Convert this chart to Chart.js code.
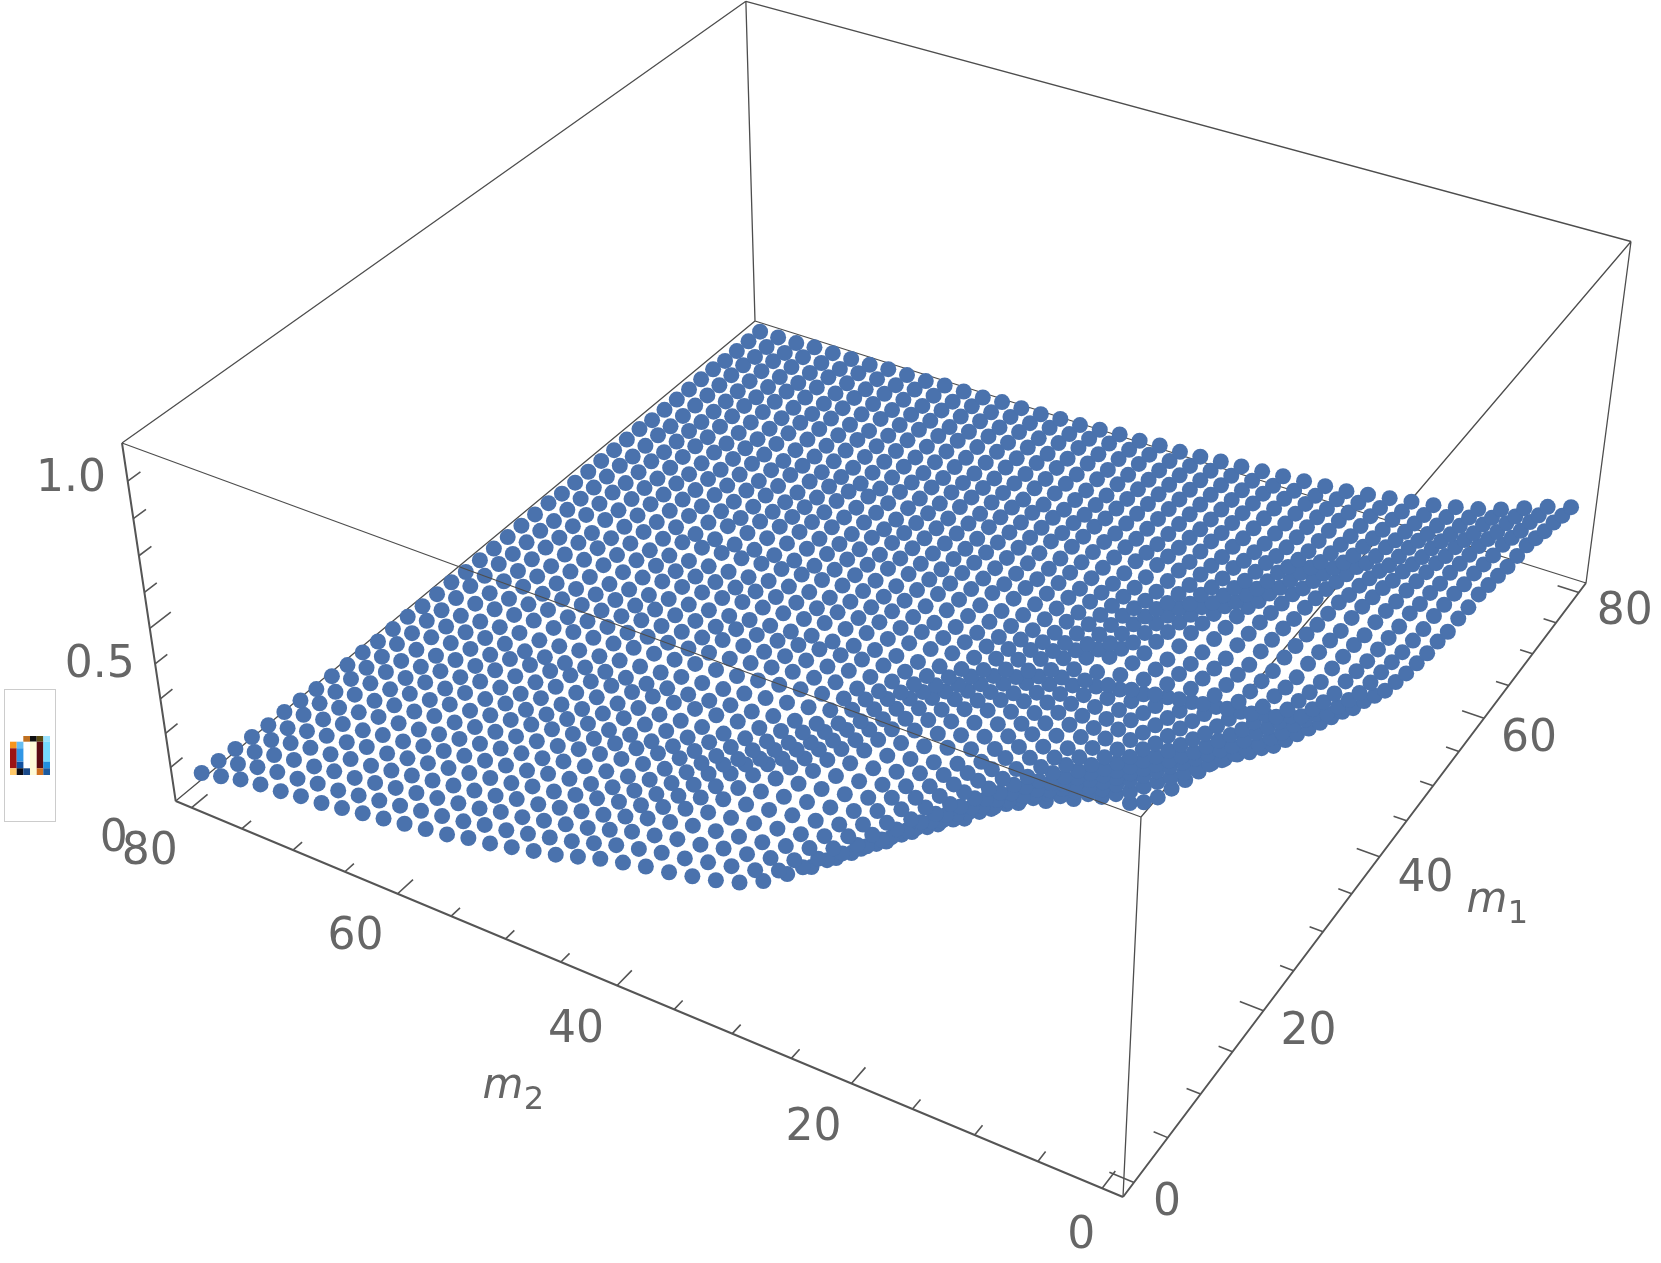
<!DOCTYPE html>
<html><head><meta charset="utf-8"><title>Surface points</title>
<style>html,body{margin:0;padding:0;background:#fff}canvas{display:block}</style>
<script src="https://cdn.jsdelivr.net/npm/chart.js@4"></script></head>
<body><canvas id="c" width="1661" height="1263"></canvas>
<script>
const m1Values=[0,2,4,6,8,10,12,14,16,18,20,22,24,26,28,30,32,34,36,38,40,42,44,46,48,50,52,54,56,58,60,62,64,66,68,70,72,74,76,78,80];
const m2Values=[0,2,4,6,8,10,12,14,16,18,20,22,24,26,28,30,32,34,36,38,40,42,44,46,48,50,52,54,56,58,60,62,64,66,68,70,72,74,76,78,80];
// surface height x100, one row per m1 value, one column per m2 value
const zRows=[
[98,97,94,91,88,84,79,75,70.5,65.5,61,56,51,46.5,42,39,37,35.5,34,33,31.5,30,28,26,24.5,23,21.5,20.5,19,18,17,16,15,14,13,12.5,11.5,11,10,8.5,7],
[94,93.5,91,88,85,81,76.5,72,67.5,63,58,53,48.5,44,40.5,38,36.5,35,33.5,32.5,31,29.5,27.5,25.5,24,22.5,21,20,18.5,17.5,16.5,15.5,14.5,13.5,12.5,12,11,10.5,9.5,8,6.5],
[91,90,88,85,82,78,73.5,69.5,65,60.5,55.5,50.5,46,42,39,37,35.5,34.5,33,32,30.5,29,27,25,23.5,22,20.5,19.5,18,17,16,15,14,13,12,11.5,10.5,10,9,7.5,6],
[89,87,85,82,79,75,71,67,62.5,58,53,48,44,40.5,38,36,34.5,33.5,32.5,31.5,30,28.5,26.5,24.5,23,21.5,20,19,17.5,16.5,15.5,14.5,13.5,12.5,11.5,11,10,9.5,8.5,7,5.5],
[87,84,82,79,76,72,68,64.5,60,55.5,51,46.5,42.5,39.5,37,35,34,33,32,31,29.5,27.5,25.5,24,22.5,21,19.5,18.5,17,16,15,14,13,12,11,10.5,9.5,9,8,6.5,5],
[85,81,79,76,73,69.5,65.5,62,58,53.5,49,45,41.5,38.5,36,34.5,33.5,32.5,31.5,30.5,28.5,26.5,24.5,23,21.5,20,19,18,16.5,15.5,14.5,13.5,12.5,11.5,10.5,10,9,8.5,7.5,6.5,5],
[83,78,76,73,70,67,63,59.5,55.5,51.5,47.5,44,41,38,35.5,34,33,32,31,29.5,27.5,25.5,23.5,22,20.5,19.5,18.5,17.5,16,15,14,13,12,11,10,9.5,9,8,7,6,4.5],
[80,75,73,70,67,64,60.5,57,53.5,50,46.5,43,40,37.5,35,33.5,32.5,31.5,30.5,29,27,24.5,22.5,21,20,19,18,17,15.5,14.5,13.5,12.5,11.5,10.5,10,9,8.5,7.5,7,5.5,4],
[77,72,70,67,64,61,58,55,51.5,48.5,45.5,42,39,36.5,34.5,33,32,31,29.5,28,25.5,23,21,20,19,18,17,16,15,14,13,12,11,10,9.5,8.5,8,7,6.5,5.5,4],
[73.5,69,67,64,61.5,58.5,55.5,53,50,47,44.5,41,38,36,34,32.5,31.5,30,28,25.5,23,20.5,19,18,17,16,15.5,14.5,14,13,12,11,10.5,9.5,9,8,7.5,6.5,6,5,3.5],
[70.5,66.5,64,61,58.5,56,53.5,51,48.5,46,43.5,40,37,35,33.5,32,31,29,26.5,24,21.5,19,17.5,16.5,15.5,15,14.5,14,13,12,11,10.5,9.5,9,8.5,7.5,7,6,5.5,4.5,3.5],
[67,63.5,61,58,56,54,51.5,49.5,47,45,42.5,39.5,37,35,33,31.5,30,27.5,25,22,19.5,17.5,16,15,14.5,14,13.5,13,12,11.5,10.5,10,9,8.5,8,7,6.5,5.5,5,4.5,3],
[64.5,61,58,55.5,53.5,51.5,50,48,46,44,42,39,36.5,34.5,32.5,31,29,26.5,24,21,18.5,16.5,15,14.5,14,13.5,13,12.5,11.5,11,10,9.5,8.5,8,7.5,6.5,6,5.5,5,4,3],
[62,58.5,55.5,53,51,49.5,48,46.5,44.5,43,41,38.5,36,34,32,30,28,25.5,22.5,19.5,17,15.5,14.5,13.5,13,12,11.5,11,10,9.5,9,8,7,6.5,6,6,5.5,5,4.5,4,3],
[59.5,56,53.5,50.5,48.5,47.5,46,45,43,41.5,40,37.5,35.5,33.5,31.5,29,27,24.5,22,19.5,17,15.5,14.5,13.5,12.5,11.5,11,10.5,9.5,9,8.5,7.5,7,6,5.5,5.5,5,4.5,4,3.5,2.5],
[57,54,51,48,46.5,45.5,44,43,41.5,40,38.5,36.5,34.5,32.5,30,28,26,23.5,21,18.5,16.5,15.5,14.5,13.5,12.5,11.5,11,10.5,9.5,9,8.5,7.5,7,6.5,5.5,5.5,5,4.5,4,3.5,2.5],
[54.5,51.5,48.5,46,44.5,43.5,42,41,40,38.5,37,35,33,30.5,28.5,26.5,24,21.5,19,17,15.5,15,14,13.5,12.5,11.5,10.5,10,9,8.5,8,7,6.5,6,5,5,4.5,4,3.5,3.5,2.5],
[52,49,46,44,42.5,41.5,40.5,39.5,38,37,35.5,33.5,31.5,29.5,27,24.5,22,19.5,17.5,16,15,14.5,13.5,13,12,11,10.5,10,8.5,8,7.5,7,6,5.5,5,4.5,4,4,3.5,3,2],
[49,45,42,39.5,38,37,36,35,34,33,32,31,29.5,27.5,25,23,20.5,18,16,15,14.5,14,13,12.5,11.5,10.5,10,9.5,8,7.5,7,6.5,5.5,5,4.5,4,3.5,3.5,3,3,2],
[47,43,40,37.5,36,35,34.5,34,33,32,31,29.5,28,25.5,23,21,18.5,16.5,15,14,13.5,13,12,11,10.5,9.5,9,8.5,7.5,7,6.5,6,5,4.5,4,4,3.5,3,3,2.5,2],
[44.5,41,38,36,35,34,33.5,33,32,31,30.5,30,27.5,25,22.5,20,18,16,15,14,13.5,12.5,12,11,10.5,9.5,9,8.5,8,7,6.5,6,5.5,4.5,4,4,3.5,3,3,2.5,2],
[42,39,36.5,34.5,33.5,33,32.5,32,31,30,29.5,28.5,26,23.5,21,19,17,15.5,14.5,13.5,13,12,11.5,10.5,10,9,8.5,8,7.5,6.5,6,5.5,5,4.5,4,3.5,3.5,3,2.5,2.5,2],
[40.5,38,36,33.5,32.5,32,31.5,31,30.5,30,29,26.5,24,21.5,19.5,17.5,16,14.5,13.5,13,12,11.5,11,10,9.5,8.5,8,7.5,7,6,5.5,5,4.5,4,3.5,3.5,3,2.5,2.5,2,2],
[39,37,35,33.5,32.5,32,31.5,31,30.5,30,28,25.5,23,20.5,18.5,16.5,15,14,13,12.5,12,11,10.5,9.5,9,8.5,8,7.5,7,6.5,6,5.5,5,4.5,3.5,3.5,3,3,2.5,2,2],
[38,36,34,33,32,31.5,31,30.5,30,29,27,24.5,22,19.5,17.5,16,14.5,13.5,12.5,12,11.5,11,10,9,8.5,8,7.5,6.5,6,5.5,5,4.5,4,3.5,3.5,3,3,2.5,2.5,2,1.5],
[37,35,33.5,32.5,31.5,31,30.5,30,29.5,28,25.5,23,20.5,18.5,16.5,15,14,13,12.5,12,11,10.5,9.5,9,8.5,7.5,7,6.5,6,5.5,5,4.5,4.5,3.5,3.5,3,3,2.5,2.5,2,1.5],
[36.5,34.5,33,31.5,30.5,30,29.5,29,28.5,26.5,24,21.5,19,17,15.5,14.5,13.5,12.5,12,11,10.5,10,9,8.5,8,7,6.5,6,5.5,5.5,5,4.5,3.5,3.5,3,3,2.5,2.5,2,2,1.5],
[35.5,34,32.5,31.5,30.5,29.5,29,28,26.5,24,21.5,19,17,15.5,14.5,13.5,12.5,12,11,10.5,10,9.5,8.5,8,7.5,7,6.5,5.5,5.5,5,4.5,4,3.5,3,3,2.5,2.5,2,2,2,1.5],
[35.5,34,32.5,31,30,29,28,27,25,22.5,20,18,16,14.5,13.5,12.5,12,11.5,10.5,10,9.5,9,8,7.5,7,6.5,5.5,5.5,5,4.5,4,3.5,3.5,3,2.5,2.5,2,2,2,1.5,1.5],
[35,33.5,31.5,30,29,27.5,27,25,23,20.5,18.5,16.5,15,14,13,12,11.5,11,10,9.5,9,8.5,7.5,7,6.5,6,5,5,4.5,4.5,3.5,3,3,2.5,2.5,2,2,2,1.5,1.5,1.5],
[35,33,31,29.5,28,26.5,25.5,23.5,21.5,19,17,15.5,14.5,13.5,13,12,11,10.5,10,9.5,8.5,8,7.5,6.5,6,5.5,5,4.5,4.5,4,3.5,3,3,2.5,2.5,2,2,2,1.5,1.5,1.5],
[34,32,30,28.5,26.5,25,24,22,20,18,16,15,13.5,12.5,12,11,10.5,10,9.5,8.5,8,7.5,7,6,6,5,4.5,4.5,3.5,3,3,2.5,2.5,2,2,2,1.5,1.5,1.5,1,1],
[33,31.5,29.5,27.5,25.5,23.5,22.5,20,18,16,15,13.5,12.5,12,11,10,9.5,9,9,8,7.5,7,6.5,6,5.5,5,4.5,4,3.5,3,2.5,2.5,2,2,2,1.5,1.5,1.5,1,1,1],
[32,30.5,28.5,26.5,24,21.5,20,18,16,14.5,13.5,12.5,12,11.5,10.5,9.5,9,8.5,8,7,6.5,6,5.5,5.5,5,4.5,4,3.5,3.5,3,2.5,2.5,2,2,2,1.5,1.5,1.5,1,1,1],
[31.5,29.5,27.5,25,22.5,20.5,18.5,16.5,15,13.5,12.5,11.5,11,10.5,9.5,9,8.5,8,7.5,6.5,6,6,5.5,5,4.5,4,4,3.5,3,3,2.5,2.5,2,2,2,1.5,1.5,1.5,1,1,1],
[31,29,26.5,24,21.5,19.5,17.5,15.5,14,13,12,11,10.5,10,9,8.5,8,7.5,7,6,5.5,5.5,5,4.5,4.5,4,3.5,3.5,3,3,2.5,2,2,2,1.5,1.5,1.5,1,1,1,1],
[29.5,27.5,25,22.5,20,18,16,14.5,13,12.5,11.5,10.5,10,9.5,8.5,8,7.5,7,6.5,6,5.5,5,5,4.5,4,4,3.5,3.5,3,3,2.5,2.5,2,2,1.5,1.5,1.5,1,1,1,1],
[28,26,23.5,21,18.5,16.5,15,13.5,12.5,12,11,10,9.5,9,8,7.5,7,6.5,6,5.5,5,5,4.5,4,4,3.5,3.5,3,2.5,2.5,2.5,2,2,2,1.5,1.5,1,1,1,1,0.5],
[27,25,22.5,20,17.5,15.5,14,13,12,11,10,9.5,9,8.5,7.5,7,6.5,6,5.5,5.5,5,4.5,4.5,4,3.5,3.5,3,3,2.5,2.5,2,2,2,1.5,1.5,1.5,1,1,1,0.5,0.5],
[25.5,23.5,21,18.5,16.5,14.5,13,12,11,10.5,9.5,8.5,8,7.5,7,6.5,6,5.5,5,5,4.5,4.5,4,3.5,3.5,3,3,2.5,2.5,2,2,2,1.5,1.5,1.5,1,1,1,0.5,0.5,0.5],
[24.5,22.5,20,17.5,15.5,14,12.5,11.5,10.5,9.5,8.5,8,7.5,7,6.5,6,5.5,5,4.5,4.5,4,4,3.5,3,3,2.5,2.5,2.5,2,2,2,1.5,1.5,1.5,1,1,1,1,0.5,0.5,0.5]
];
const m2Ticks=[0,5,10,15,20,25,30,35,40,45,50,55,60,65,70,75,80];
const m1Ticks=[0,5,10,15,20,25,30,35,40,45,50,55,60,65,70,75,80];
const zTicks=[0,0.1,0.2,0.3,0.4,0.5,0.6,0.7,0.8,0.9,1];
const m2Labels=["0","20","40","60","80"];
const m1Labels=["0","20","40","60","80"];
const zLabels=["0","0.5","1.0"];

const M_MIN=-1.6, M_MAX=81.6;
const frameCal=[[0,0,0,1123,1197],[1,0,0,175.7,801],[0,1,0,1586,583],[1,1,0,755,321],
 [0,0,1,1141,817],[1,0,1,122,443],[0,1,1,1631,241.5]];
function solveCamera(){
 const A=[],B=[];
 frameCal.forEach(([a,b,c,x,y])=>{
  const X=x/1000,Y=y/1000;
  A.push([a,b,c,1,0,0,0,0,-X*a,-X*b,-X*c]);B.push(X);
  A.push([0,0,0,0,a,b,c,1,-Y*a,-Y*b,-Y*c]);B.push(Y);
 });
 const n=11,N=[];
 for(let i=0;i<n;i++){N.push(new Array(n+1).fill(0));
  for(let j=0;j<n;j++)for(let k=0;k<A.length;k++)N[i][j]+=A[k][i]*A[k][j];
  for(let k=0;k<A.length;k++)N[i][n]+=A[k][i]*B[k];}
 for(let i=0;i<n;i++){let p=i;for(let r=i+1;r<n;r++)if(Math.abs(N[r][i])>Math.abs(N[p][i]))p=r;
  [N[i],N[p]]=[N[p],N[i]];
  for(let r=0;r<n;r++)if(r!==i){const f=N[r][i]/N[i][i];for(let c=i;c<=n;c++)N[r][c]-=f*N[i][c];}}
 return N.map((row,i)=>row[n]/row[i]);
}
const P=solveCamera();
function raw(a,b,c){
 const w=P[8]*a+P[9]*b+P[10]*c+1;
 return [1000*(P[0]*a+P[1]*b+P[2]*c+P[3])/w,1000*(P[4]*a+P[5]*b+P[6]*c+P[7])/w];
}
const residuals=frameCal.map(([a,b,c,x,y])=>{const r=raw(a,b,c);return [a,b,c,x-r[0],y-r[1]];});
function proj(m1,m2,z){
 const a=(m2-M_MIN)/(M_MAX-M_MIN),b=(m1-M_MIN)/(M_MAX-M_MIN),c=z;
 const r=raw(a,b,c);let dx=0,dy=0;
 residuals.forEach(([ca,cb,cc,ex,ey])=>{const w=(ca?a:1-a)*(cb?b:1-b)*(cc?c:1-c);dx+=w*ex;dy+=w*ey;});
 return {x:r[0]+dx,y:r[1]+dy};
}
const gap={x:NaN,y:NaN};
const surface=[];
m1Values.forEach((m1,i)=>m2Values.forEach((m2,j)=>surface.push(proj(m1,m2,zRows[i][j]/100))));
function edges(list){const out=[];list.forEach(([p,q])=>{out.push(proj(...p),proj(...q),gap);});return out;}
const L=M_MIN,H=M_MAX;
const backEdges=edges([[[H,H,0],[H,H,1]],[[H,H,1],[L,H,1]],[[H,H,1],[H,L,1]],[[L,H,0],[H,H,0]],[[H,H,0],[H,L,0]],[[H,L,1],[L,L,1]],[[L,L,0],[L,L,1]],[[H,L,0],[H,L,1]]]);
const frontTop=edges([[[L,H,1],[L,L,1]]]);
const axisEdges=edges([[[L,H,0],[L,L,0]],[[L,L,0],[H,L,0]],[[L,H,0],[L,H,1]]]);
const ticks=[];
m2Ticks.forEach(t=>{const len=t%20===0?1.9:1.1;ticks.push(proj(L,t,0),proj(L+len,t,0),gap);});
m1Ticks.forEach(t=>{const len=t%20===0?1.9:1.1;ticks.push(proj(t,L,0),proj(t,L+len,0),gap);});
zTicks.forEach(t=>{if(t===0||t===1)return;const len=Math.round(t*10)===5?2.4:1.4;ticks.push(proj(L,H,t),proj(L+len,H,t),gap);});

const lineDs=(data,color,width,order)=>({type:'scatter',data,showLine:true,spanGaps:false,clip:false,borderColor:color,borderWidth:width,pointRadius:0,order});
const glyphBlocks=[[10,741.7,6.7,6.7,'#f7941d'],[10,748.3,6.7,20,'#9c1414'],[10,768.3,6.7,6.7,'#ffc868'],
[16.7,741.7,6.7,6.7,'#66bdf2'],[16.7,748.3,6.7,13.3,'#3096e6'],[16.7,761.7,6.7,6.7,'#1050a0'],[16.7,768.3,6.7,6.7,'#0a0a14'],
[23.3,736,6.7,5.7,'#c07020'],[23.3,768.3,6.7,6.7,'#1a4a8a'],
[30,736,6.7,5.7,'#101010'],[30,741.7,6.7,33.3,'#fffbd8'],
[36.7,736,6.7,5.7,'#5a4a10'],[36.7,741.7,6.7,26.6,'#5a0a10'],[36.7,768.3,6.7,6.7,'#d07020'],
[43.3,736,6.7,5.7,'#9ce4ff'],[43.3,741.7,6.7,20,'#74dcff'],[43.3,761.7,6.7,6.7,'#2090e0'],[43.3,768.3,6.7,6.7,'#1a5aa0']];
const m2Nudge={"0":[-21,48],"20":[-38,45],"40":[-41,45],"60":[-42,44],"80":[-42,45]};
const m1Nudge={"0":[33,21],"20":[45,22],"40":[46,23],"60":[45,21],"80":[46,20]};
const zNudge={"0":[-62,39],"0.5":[-50,37],"1.0":[-51,37]};
const textPlugin={id:'text3d',afterDatasetsDraw(chart){
 const g=chart.ctx,sx=chart.scales.x,sy=chart.scales.y;
 const px=p=>[sx.getPixelForValue(p.x),sy.getPixelForValue(p.y)];
 g.save();
 g.fillStyle='#666';g.textAlign='center';g.textBaseline='middle';g.font='44px "DejaVu Sans"';
 m2Labels.forEach(s=>{const [x,y]=px(proj(L,+s,0));g.fillText(s,x+m2Nudge[s][0],y+m2Nudge[s][1]);});
 m1Labels.forEach(s=>{const [x,y]=px(proj(+s,L,0));g.fillText(s,x+m1Nudge[s][0],y+m1Nudge[s][1]);});
 zLabels.forEach(s=>{const [x,y]=px(proj(L,H,+s));g.fillText(s,x+zNudge[s][0],y+zNudge[s][1]);});
 const title=(x,y,sub)=>{g.font='italic 42px "DejaVu Sans"';g.fillText('m',x,y);
  g.font='32px "DejaVu Sans"';g.fillText(sub,x+31,y+14);};
 title(sx.getPixelForValue(503),sy.getPixelForValue(1087),'2');
 title(sx.getPixelForValue(1487),sy.getPixelForValue(901),'1');
 g.strokeStyle='#ccc';g.lineWidth=1;g.strokeRect(4.5,689.5,51,132);
 glyphBlocks.forEach(([x,y,w,h,c])=>{g.fillStyle=c;g.fillRect(x,y,w,h);});
 g.restore();
}};
new Chart(document.getElementById('c'),{
 data:{datasets:[
  lineDs(frontTop,'#4d4d4d',1.2,0),
  {type:'scatter',label:'surface',data:surface,backgroundColor:'#4a72ad',borderWidth:0,pointRadius:8,pointHoverRadius:8,order:1},
  lineDs(axisEdges,'#555',2,2),
  lineDs(ticks,'#555',1.6,2),
  lineDs(backEdges,'#4d4d4d',1.3,3)
 ]},
 options:{responsive:false,animation:false,events:[],layout:{padding:0,autoPadding:false},
  plugins:{legend:{display:false},tooltip:{enabled:false},title:{display:false}},
  scales:{x:{type:'linear',min:0,max:1661,display:false},y:{type:'linear',min:0,max:1263,reverse:true,display:false}}},
 plugins:[textPlugin]
});
</script></body></html>
